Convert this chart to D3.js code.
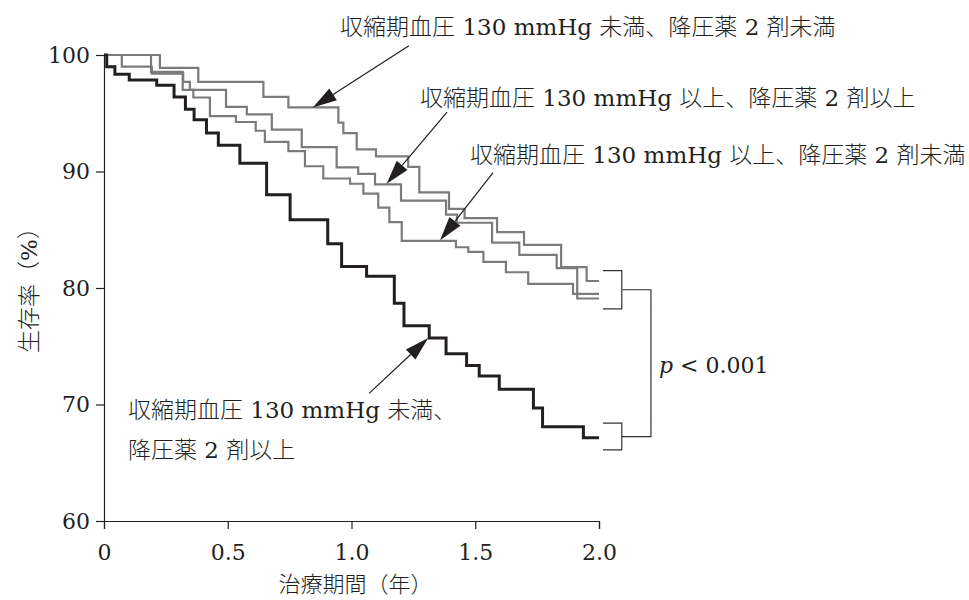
<!DOCTYPE html>
<html>
<head>
<meta charset="utf-8">
<script src="https://cdn.jsdelivr.net/npm/d3@7"></script>
<style>
  body { margin: 0; background: #fff; }
  text { font-family: "DejaVu Serif", "Noto Sans CJK JP", serif; fill: #231f20; font-weight: 300; }
</style>
</head>
<body>
<svg id="chart" width="969" height="600"></svg>
<script>
// axis ticks
const xTicks = [0, 0.5, 1.0, 1.5, 2.0];
const yTicks = [60, 70, 80, 90, 100];

// survival curves (years, %), step after each time
const timeA = [0, 0.226, 0.381, 0.644, 0.745, 0.947, 0.967, 1.021, 1.099, 1.229, 1.274, 1.394, 1.457, 1.588, 1.697, 1.847, 1.950, 2.0];
const survA = [100, 98.9, 97.7, 96.4, 95.5, 94.2, 93.3, 91.9, 91.3, 90.4, 88.2, 86.8, 86.0, 84.8, 83.7, 81.8, 80.6, 80.6];

const timeB = [0, 0.072, 0.193, 0.320, 0.347, 0.493, 0.577, 0.678, 0.799, 0.940, 1.027, 1.095, 1.200, 1.382, 1.426, 1.568, 1.678, 1.829, 1.912, 2.0];
const survB = [100, 99.0, 98.4, 97.7, 97.0, 95.55, 94.9, 93.6, 92.1, 90.35, 89.8, 88.9, 87.5, 86.3, 85.6, 83.9, 82.85, 81.7, 79.1, 79.1];

const timeC = [0, 0.190, 0.318, 0.361, 0.428, 0.533, 0.613, 0.650, 0.745, 0.812, 0.886, 0.994, 1.048, 1.108, 1.153, 1.203, 1.422, 1.472, 1.533, 1.624, 1.714, 1.895, 2.0];
const survC = [100, 98.55, 97.0, 96.35, 94.75, 94.25, 93.5, 92.55, 91.75, 90.45, 89.4, 88.95, 88.1, 86.9, 85.65, 84.05, 83.5, 83.1, 82.25, 81.35, 80.35, 79.5, 79.5];

const timeD = [0, 0.011, 0.044, 0.102, 0.213, 0.283, 0.329, 0.364, 0.414, 0.462, 0.549, 0.657, 0.752, 0.904, 0.960, 1.061, 1.173, 1.212, 1.314, 1.382, 1.465, 1.516, 1.597, 1.735, 1.772, 1.937, 2.0];
const survD = [100, 99.0, 98.35, 97.85, 97.4, 96.4, 95.35, 94.45, 93.3, 92.25, 90.7, 88.0, 85.85, 83.8, 81.85, 81.0, 78.7, 76.75, 75.7, 74.35, 73.35, 72.45, 71.3, 69.7, 68.1, 67.15, 67.15];

// labels with arrow (tip -> tail in data units)
const groupLabels = [
  ['収縮期血圧 130 mmHg 未満、降圧薬 2 剤未満'],
  ['収縮期血圧 130 mmHg 以上、降圧薬 2 剤以上'],
  ['収縮期血圧 130 mmHg 以上、降圧薬 2 剤未満'],
  ['収縮期血圧 130 mmHg 未満、', '降圧薬 2 剤以上']
];
const labelPos = [[0.954, 101.75], [1.277, 95.65], [1.479, 90.75], [0.097, 68.8]];
const arrowTip = [[0.844, 95.5], [1.142, 88.95], [1.358, 84.1], [1.310, 75.7]];
const arrowTail = [[1.232, 100.8], [1.386, 95.1], [1.572, 89.9], [1.071, 70.95]];

// p-value bracket
const bracketUpper = [81.5, 78.2];
const bracketLower = [68.4, 66.1];
const bracketX = [2.016, 2.092, 2.21];
const pText = 'p';
const pValue = ' < 0.001';

const config = {
  width: 969,
  height: 600,
  margin: { top: 55, right: 370, bottom: 79, left: 104 },
  fontSize: 23
};

const svg = d3.select('#chart');
const x = d3.scaleLinear().domain([0, 2]).range([config.margin.left, config.width - config.margin.right]);
const y = d3.scaleLinear().domain([60, 100]).range([config.height - config.margin.bottom, config.margin.top]);

// axes
const yAxis = svg.append('g')
  .attr('transform', `translate(${x(0)},0)`)
  .call(d3.axisLeft(y).tickValues(yTicks).tickSize(8).tickSizeOuter(0).tickPadding(6));
const xAxis = svg.append('g')
  .attr('transform', `translate(0,${y(60)})`)
  .call(d3.axisBottom(x).tickValues(xTicks).tickSize(8).tickSizeOuter(8).tickPadding(15)
    .tickFormat(d => d === 0 ? '0' : d3.format('.1f')(d)));

[xAxis, yAxis].forEach(ax => {
  ax.selectAll('path, line').attr('stroke', '#231f20').attr('stroke-width', 1.2);
  ax.selectAll('text')
    .style('font-family', '"DejaVu Serif", serif')
    .style('font-size', '22px')
    .attr('fill', '#231f20');
});

// axis titles
svg.append('text')
  .attr('x', x(1.0) + 4)
  .attr('y', 592)
  .attr('text-anchor', 'middle')
  .style('font-size', '22px')
  .text('治療期間（年）');
svg.append('text')
  .attr('transform', `translate(37,${y(80.3)}) rotate(-90)`)
  .attr('text-anchor', 'middle')
  .style('font-size', '23px')
  .text('生存率（%）');

// curves
const line = d3.line()
  .curve(d3.curveStepAfter)
  .x(d => x(d[0]))
  .y(d => y(d[1]));

const curves = [
  { t: timeA, s: survA, color: '#7b7b7b', w: 2.2 },
  { t: timeB, s: survB, color: '#7b7b7b', w: 2.2 },
  { t: timeC, s: survC, color: '#7b7b7b', w: 2.2 },
  { t: timeD, s: survD, color: '#231f20', w: 3 }
];

svg.selectAll('.curve')
  .data(curves)
  .enter()
  .append('path')
  .attr('class', 'curve')
  .attr('d', c => line(c.t.map((t, i) => [t, c.s[i]])))
  .attr('fill', 'none')
  .attr('stroke', c => c.color)
  .attr('stroke-width', c => c.w);

// labels + arrows
groupLabels.forEach((lines, i) => {
  const t = svg.append('text')
    .attr('x', x(labelPos[i][0]))
    .attr('y', y(labelPos[i][1]))
    .style('font-size', config.fontSize + 'px');
  lines.forEach((l, j) => {
    t.append('tspan')
      .attr('x', x(labelPos[i][0]))
      .attr('dy', j === 0 ? 0 : 40)
      .text(l);
  });

  const tx = x(arrowTip[i][0]), ty = y(arrowTip[i][1]);
  const sx = x(arrowTail[i][0]), sy = y(arrowTail[i][1]);
  const ang = Math.atan2(sy - ty, sx - tx);
  const len = 24, half = 7;
  const bx = tx + len * Math.cos(ang), by = ty + len * Math.sin(ang);
  svg.append('line')
    .attr('x1', sx).attr('y1', sy)
    .attr('x2', bx).attr('y2', by)
    .attr('stroke', '#231f20')
    .attr('stroke-width', 1.2);
  svg.append('path')
    .attr('d', `M${tx},${ty}L${bx - half * Math.sin(ang)},${by + half * Math.cos(ang)}L${bx + half * Math.sin(ang)},${by - half * Math.cos(ang)}Z`)
    .attr('fill', '#231f20');
});

// bracket
const bracket = d3.path();
[bracketUpper, bracketLower].forEach(b => {
  bracket.moveTo(x(bracketX[0]), y(b[0]));
  bracket.lineTo(x(bracketX[1]), y(b[0]));
  bracket.lineTo(x(bracketX[1]), y(b[1]));
  bracket.lineTo(x(bracketX[0]), y(b[1]));
});
const midU = (bracketUpper[0] + bracketUpper[1]) / 2;
const midL = (bracketLower[0] + bracketLower[1]) / 2;
bracket.moveTo(x(bracketX[1]), y(midU));
bracket.lineTo(x(bracketX[2]), y(midU));
bracket.lineTo(x(bracketX[2]), y(midL));
bracket.lineTo(x(bracketX[1]), y(midL));
svg.append('path')
  .attr('d', bracket.toString())
  .attr('fill', 'none')
  .attr('stroke', '#333')
  .attr('stroke-width', 1.2);

const pt = svg.append('text')
  .attr('x', x(bracketX[2]) + 8)
  .attr('y', y(73.4) + 8)
  .style('font-size', '22px');
pt.append('tspan').style('font-style', 'italic').text(pText);
pt.append('tspan').text(pValue);
</script>
</body>
</html>
